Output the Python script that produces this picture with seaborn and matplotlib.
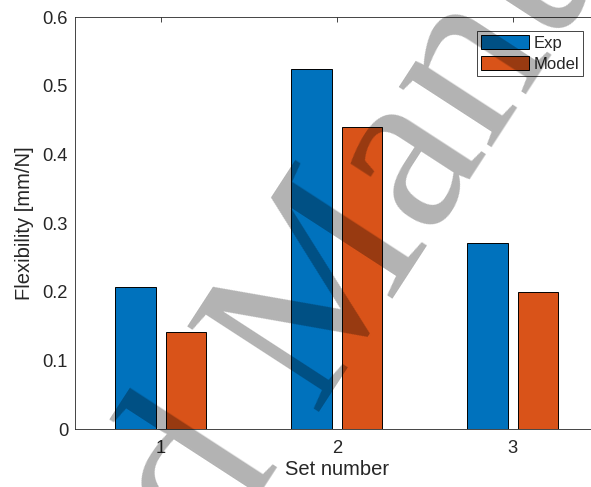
import matplotlib

matplotlib.use("Agg")
import matplotlib.pyplot as plt
import pandas as pd
import seaborn as sns

# values
set_numbers = [1, 2, 3]
exp_flex = [0.207, 0.524, 0.272]
model_flex = [0.141, 0.440, 0.200]
series_names = ["Exp", "Model"]
series_colors = ["#0072BD", "#D95319"]
y_ticks = [0, 0.1, 0.2, 0.3, 0.4, 0.5, 0.6]
y_tick_labels = ["0", "0.1", "0.2", "0.3", "0.4", "0.5", "0.6"]
x_tick_labels = ["1", "2", "3"]

df = pd.DataFrame({
    "set": set_numbers * 2,
    "flex": exp_flex + model_flex,
    "series": [series_names[0]] * 3 + [series_names[1]] * 3,
})

sns.set_theme(style="white")
plt.rcParams["font.family"] = ["Liberation Sans", "DejaVu Sans"]
axis_col = "#262626"

fig = plt.figure(figsize=(5.91, 4.87), dpi=100)
ax = fig.add_axes([0.1269, 0.1185, 0.8856, 0.846])

sns.barplot(
    data=df, x="set", y="flex", hue="series", hue_order=series_names,
    palette=series_colors, native_scale=True, width=0.571, gap=0.2,
    saturation=1, edgecolor="black", linewidth=0.7, errorbar=None, ax=ax,
)

ax.set_xlim(0.513, 3.487)
ax.set_ylim(0, 0.6)
ax.set_xticks(set_numbers)
ax.set_xticklabels(x_tick_labels)
ax.set_yticks(y_ticks)
ax.set_yticklabels(y_tick_labels)
ax.tick_params(direction="in", top=True, right=True, length=3.6, width=0.6,
               color=axis_col, labelcolor=axis_col, labelsize=13.2)
ax.tick_params(axis="x", pad=8)
ax.tick_params(axis="y", pad=5)
for sp in ax.spines.values():
    sp.set_visible(True)
    sp.set_color(axis_col)
    sp.set_linewidth(0.6)

ax.set_xlabel("Set number", fontsize=14.5, color=axis_col, labelpad=2)
ax.set_ylabel("Flexibility [mm/N]", fontsize=14.5, color=axis_col, labelpad=6)

leg = ax.legend(
    loc="upper right", bbox_to_anchor=(0.971, 0.967), fontsize=12,
    frameon=True, fancybox=False, framealpha=1, edgecolor=axis_col,
    handlelength=2.9, handleheight=0.95, handletextpad=0.25,
    borderpad=0.25, labelspacing=0.3, borderaxespad=0,
)
leg.get_frame().set_linewidth(0.6)

# diagonal watermark on top of everything
wm = dict(rotation=57, rotation_mode="anchor", va="baseline", fontsize=172,
          family="Liberation Serif", color="black", alpha=0.3,
          transform=fig.transFigure, zorder=10)
fig.text(0.5279, 0.154, "Manuscript", ha="left", **wm)
fig.text(0.472, 0.0513, "Accepted", ha="right", **wm)

fig.savefig("out.png", dpi=100)
plt.close()
